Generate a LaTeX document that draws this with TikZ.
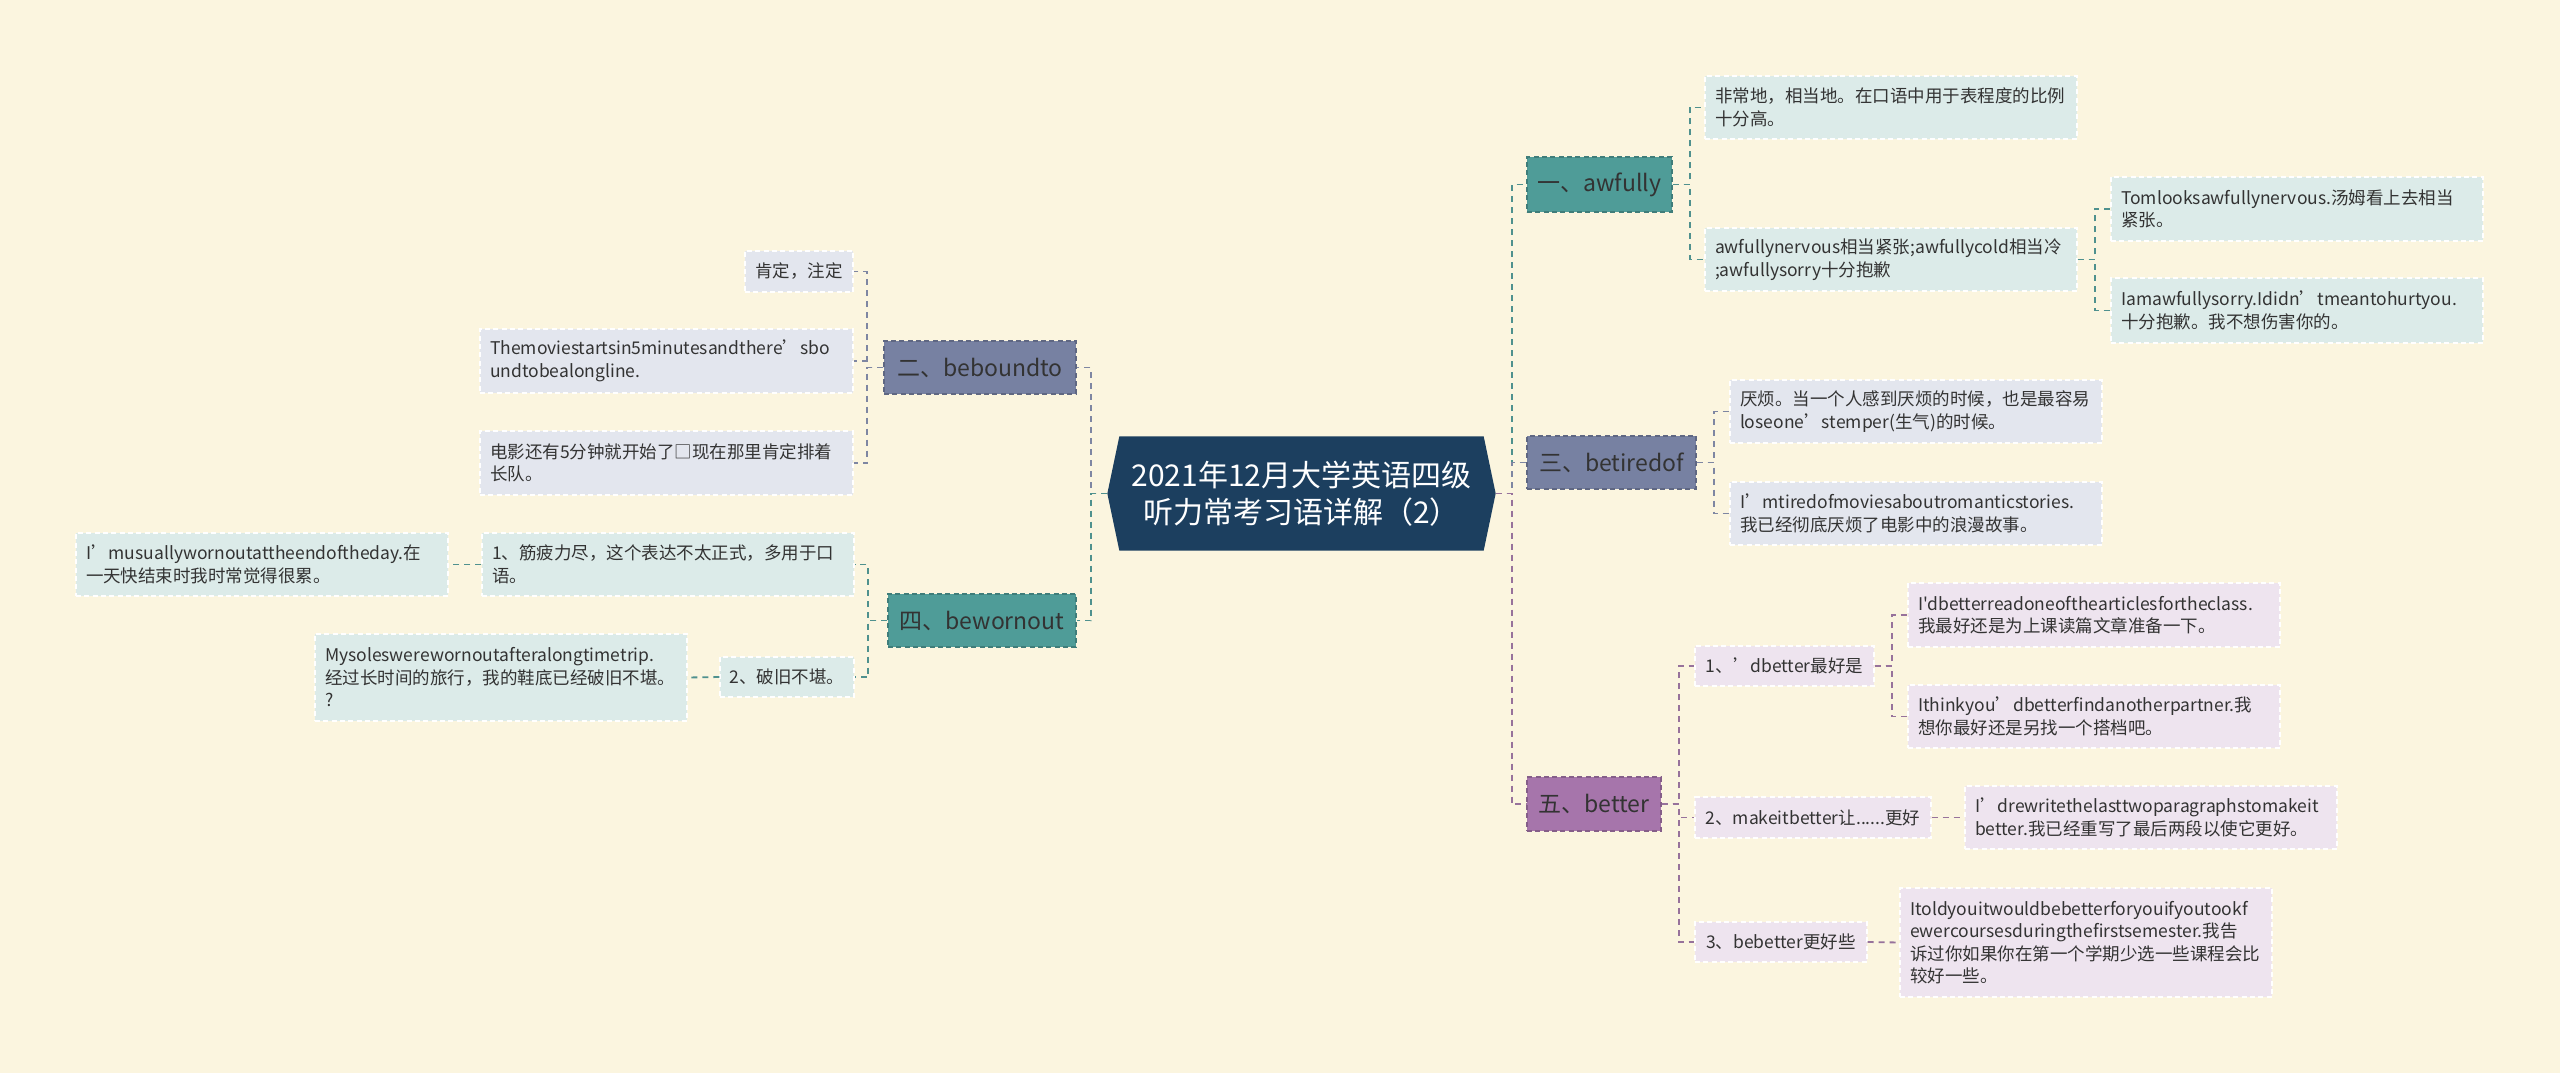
\documentclass[tikz,border=0pt]{standalone}
\usepackage{fontspec}
\setmainfont{Noto Sans CJK SC}
\newfontfamily\nomap{Noto Sans CJK SC}[Ligatures=ResetAll]
\usetikzlibrary{calc}
\definecolor{bgc}{HTML}{FBF5DF}
\definecolor{rootc}{HTML}{1C3F5F}
\definecolor{tealM}{HTML}{4F9C98}
\definecolor{slateM}{HTML}{7781A2}
\definecolor{purpM}{HTML}{A675AB}
\definecolor{tealL}{HTML}{DCEBE9}
\definecolor{slateL}{HTML}{E3E6EE}
\definecolor{purpL}{HTML}{EEE4EF}
\definecolor{tealC}{HTML}{4F918E}
\definecolor{slateC}{HTML}{7E86A2}
\definecolor{purpC}{HTML}{97729B}
\definecolor{txt}{HTML}{333333}
\newcommand\fmain{\fontsize{6.9}{8.3}\selectfont}
\newcommand\fchild{\fontsize{5.25}{6.75}\selectfont}
\newcommand\froot{\fontsize{9}{11.1}\selectfont}
\pgfdeclarelayer{bglayer}
\pgfsetlayers{bglayer,main}
\tikzset{
  bw/.style={minimum width=#1*0.3pt, text width=(#1-20)*0.3pt},
  sw/.style={minimum width=#1*0.3pt},
  bh/.style={minimum height=#1*0.3pt},
  mainnode/.style={rectangle, inner xsep=0pt, inner ysep=0pt, font=\fmain, text=txt, fill=#1, draw=#1!80!black, dashed, dash pattern=on 1.5pt off 1pt, line width=0.4pt, align=center},
  childnode/.style={rectangle, inner xsep=3pt, inner ysep=0pt, font=\fchild, text=txt, fill=#1, draw=white, dash pattern=on 1.5pt off 1pt, line width=0.4pt, align=left},
  smallnode/.style={rectangle, inner xsep=0pt, inner ysep=0pt, font=\fchild, text=txt, fill=#1, draw=white, dash pattern=on 1.5pt off 1pt, line width=0.4pt, align=center},
  conn/.style={draw=#1, dash pattern=on 1.8pt off 1.5pt, line width=0.55pt},
}
\begin{document}
\begin{tikzpicture}[x=0.3pt,y=-0.3pt]
\useasboundingbox (0,0) rectangle (2560,1073);
\begin{pgfonlayer}{bglayer}
\fill[bgc] (0,0) rectangle (2560,1073);
\end{pgfonlayer}

% root
\node[rectangle, inner sep=0pt, minimum width=363*0.3pt, minimum height=113*0.3pt, font=\froot, text=white, align=center] (root) at (1301.5,493.5) {2021年12月大学英语四级\\听力常考习语详解（2）};
\coordinate (rootR) at ($(root.east)+(12,0)$);
\coordinate (rootL) at ($(root.west)+(-12,0)$);
\begin{pgfonlayer}{bglayer}
\fill[rootc] (root.north west) -- (root.north east) -- (rootR) -- (root.south east) -- (root.south west) -- (rootL) -- cycle;
\end{pgfonlayer}

% main nodes
\node[mainnode=tealM, sw=145, bh=55] (aw) at (1599.5,184.5) {一、awfully};
\node[mainnode=slateM, sw=169, bh=53] (bt) at (1611.5,462.5) {三、betiredof};
\node[mainnode=purpM, sw=134, bh=54] (bb) at (1594,804) {五、better};
\node[mainnode=slateM, sw=192, bh=53] (bd) at (980,367.5) {二、beboundto};
\node[mainnode=tealM, sw=188, bh=53] (bw) at (982,620.5) {四、bewornout};

% awfully children
\node[childnode=tealL, bw=372, bh=63] (aw1) at (1891,107.5) {非常地，相当地。在口语中用于表程度的比例\\十分高。};
\node[childnode=tealL, bw=372, bh=63] (aw2) at (1891,259.5) {awfullynervous相当紧张;awfullycold相当冷\\;awfullysorry十分抱歉};
\node[childnode=tealL, bw=372, bh=64] (aw21) at (2297,209) {Tomlooksawfullynervous.汤姆看上去相当\\紧张。};
\node[childnode=tealL, bw=372, bh=65] (aw22) at (2297,310.5) {Iamawfullysorry.Ididn’tmeantohurtyou.\\十分抱歉。我不想伤害你的。};

% betiredof children
\node[childnode=slateL, bw=372, bh=63] (bt1) at (1916,411.5) {厌烦。当一个人感到厌烦的时候，也是最容易\\loseone’stemper(生气)的时候。};
\node[childnode=slateL, bw=372, bh=63] (bt2) at (1916,513.5) {I’mtiredofmoviesaboutromanticstories.\\我已经彻底厌烦了电影中的浪漫故事。};

% better children
\node[smallnode=purpL, sw=179, bh=40] (bb1) at (1784.5,666) {1、’dbetter最好是};
\node[childnode=purpL, bw=372, bh=64] (bb11) at (2094,615) {{\nomap I'dbetterreadoneofthearticlesfortheclass.}\\我最好还是为上课读篇文章准备一下。};
\node[childnode=purpL, bw=372, bh=63] (bb12) at (2094,716.5) {Ithinkyou’dbetterfindanotherpartner.我\\想你最好还是另找一个搭档吧。};
\node[smallnode=purpL, sw=236, bh=41] (bb2) at (1813,817.5) {2、makeitbetter让......更好};
\node[childnode=purpL, bw=372, bh=63] (bb21) at (2151,817.5) {I’drewritethelasttwoparagraphstomakeit\\better.我已经重写了最后两段以使它更好。};
\node[smallnode=purpL, sw=172, bh=40] (bb3) at (1781,942) {3、bebetter更好些};
\node[childnode=purpL, bw=372, bh=109] (bb31) at (2086,942.5) {Itoldyouitwouldbebetterforyouifyoutookf\\ewercoursesduringthefirstsemester.我告\\诉过你如果你在第一个学期少选一些课程会比\\较好一些。};

% beboundto children
\node[smallnode=slateL, sw=108, bh=41] (bd1) at (799,271.5) {肯定，注定};
\node[childnode=slateL, bw=373, bh=64] (bd2) at (666.5,361) {Themoviestartsin5minutesandthere’sbo\\undtobealongline.};
\node[childnode=slateL, bw=373, bh=64] (bd3) at (666.5,463) {电影还有5分钟就开始了□现在那里肯定排着\\长队。};

% bewornout children
\node[childnode=tealL, bw=372, bh=63] (bw1) at (668,564.5) {1、筋疲力尽，这个表达不太正式，多用于口\\语。};
\node[childnode=tealL, bw=372, bh=63] (bw11) at (262,564.5) {I’musuallywornoutattheendoftheday.在\\一天快结束时我时常觉得很累。};
\node[smallnode=tealL, sw=134, bh=40] (bw2) at (787,677) {2、破旧不堪。};
\node[childnode=tealL, bw=372, bh=87] (bw21) at (501,677.5) {Mysoleswerewornoutafteralongtimetrip.\\经过长时间的旅行，我的鞋底已经破旧不堪。\\?};

% connectors root -> main
\draw[conn=tealC] (rootR) -- ++(16,0) |- (aw.west);
\draw[conn=slateC] (rootR) -- ++(16,0) |- (bt.west);
\draw[conn=purpC] (rootR) -- ++(16,0) |- (bb.west);
\draw[conn=slateC] (rootL) -- ++(-16,0) |- (bd.east);
\draw[conn=tealC] (rootL) -- ++(-16,0) |- (bw.east);

% awfully
\draw[conn=tealC] (aw.east) -- ++(17,0) |- (aw1.west);
\draw[conn=tealC] (aw.east) -- ++(17,0) |- (aw2.west);
\draw[conn=tealC] (aw2.east) -- ++(17,0) |- (aw21.west);
\draw[conn=tealC] (aw2.east) -- ++(17,0) |- (aw22.west);
% betiredof
\draw[conn=slateC] (bt.east) -- ++(17,0) |- (bt1.west);
\draw[conn=slateC] (bt.east) -- ++(17,0) |- (bt2.west);
% better
\draw[conn=purpC] (bb.east) -- ++(17,0) |- (bb1.west);
\draw[conn=purpC] (bb.east) -- ++(17,0) |- (bb2.west);
\draw[conn=purpC] (bb.east) -- ++(17,0) |- (bb3.west);
\draw[conn=purpC] (bb1.east) -- ++(17,0) |- (bb11.west);
\draw[conn=purpC] (bb1.east) -- ++(17,0) |- (bb12.west);
\draw[conn=purpC] (bb2.east) -- (bb21.west);
\draw[conn=purpC] (bb3.east) -- (bb31.west);
% beboundto
\draw[conn=slateC] (bd.west) -- ++(-16,0) |- (bd1.east);
\draw[conn=slateC] (bd.west) -- ++(-16,0) |- (bd2.east);
\draw[conn=slateC] (bd.west) -- ++(-16,0) |- (bd3.east);
% bewornout
\draw[conn=tealC] (bw.west) -- ++(-19,0) |- (bw1.east);
\draw[conn=tealC] (bw.west) -- ++(-19,0) |- (bw2.east);
\draw[conn=tealC] (bw1.west) -- (bw11.east);
\draw[conn=tealC] (bw2.west) -- (bw21.east);
\end{tikzpicture}
\end{document}
